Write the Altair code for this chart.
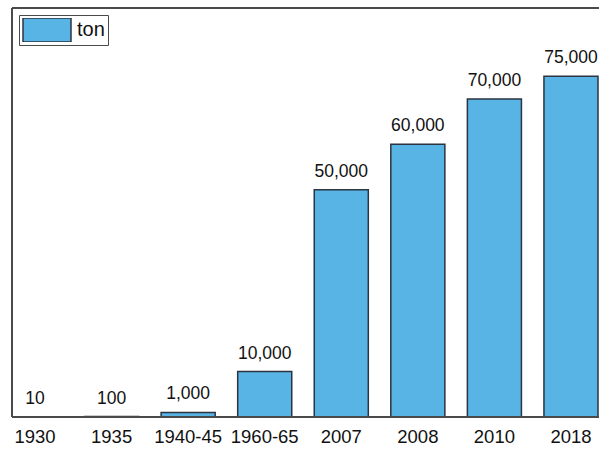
import altair as alt
import pandas as pd

# Production by period (tons)
periods = ["1930", "1935", "1940-45", "1960-65", "2007", "2008", "2010", "2018"]
tons = [10, 100, 1000, 10000, 50000, 60000, 70000, 75000]
value_labels = ["10", "100", "1,000", "10,000", "50,000", "60,000", "70,000", "75,000"]
series = ["ton"] * len(periods)

df = pd.DataFrame({"period": periods, "tons": tons, "label": value_labels, "series": series})

W, H = 587, 409
FONT = "Liberation Sans"
TEXT = "#111111"
BAR_FILL = "#58b4e5"
BAR_EDGE = "#2b3440"
FRAME = "#4a4a4a"

x = alt.X(
    "period:N",
    sort=periods,
    scale=alt.Scale(range=[-4, 586], paddingInner=0.294, paddingOuter=0),
    axis=alt.Axis(
        title=None, domain=False, ticks=False, tickSize=0, labelAngle=0,
        labelFontSize=18.5, labelFont=FONT, labelColor=TEXT, labelPadding=10,
    ),
)
y = alt.Y("tons:Q", scale=alt.Scale(domain=[0, 90000], nice=False), axis=None)

bars = alt.Chart(df).mark_bar(stroke=BAR_EDGE, strokeWidth=1.5, clip=True).encode(
    x=x,
    y=y,
    color=alt.Color(
        "series:N",
        scale=alt.Scale(range=[BAR_FILL]),
        legend=alt.Legend(
            title=None, orient="none", legendX=7, legendY=7,
            symbolType="M-1,-0.5H1V0.5H-1Z", symbolSize=2304,
            symbolStrokeColor=BAR_EDGE, symbolStrokeWidth=1.5, symbolOpacity=1,
            clipHeight=24, labelFontSize=20, labelFont=FONT, labelColor=TEXT,
            labelOffset=5, strokeColor=FRAME, padding=3, fillColor="white",
        ),
    ),
)

labels = alt.Chart(df).mark_text(
    baseline="bottom", dy=-9, fontSize=17.5, font=FONT, color=TEXT
).encode(x=x, y=y, text="label:N")

frame_df = pd.DataFrame({"k": [0]})
left_edge = alt.Chart(frame_df).mark_rule(color=FRAME, strokeWidth=2).encode(
    x=alt.value(0), y=alt.value(0), y2=alt.value(H)
)
top_edge = alt.Chart(frame_df).mark_rule(color=FRAME, strokeWidth=2).encode(
    x=alt.value(0), x2=alt.value(W), y=alt.value(0)
)
bottom_edge = alt.Chart(frame_df).mark_rule(color=FRAME, strokeWidth=2).encode(
    x=alt.value(0), x2=alt.value(W), y=alt.value(H)
)

chart = (
    alt.layer(bars, bottom_edge, left_edge, top_edge, labels)
    .properties(
        width=W, height=H,
        autosize=alt.AutoSizeParams(type="none"),
        padding={"left": 12, "top": 8, "right": 0, "bottom": 33},
        background="white",
    )
    .configure_view(stroke=None)
)

chart.save("out.html", embed_options={"renderer": "svg", "actions": False})
